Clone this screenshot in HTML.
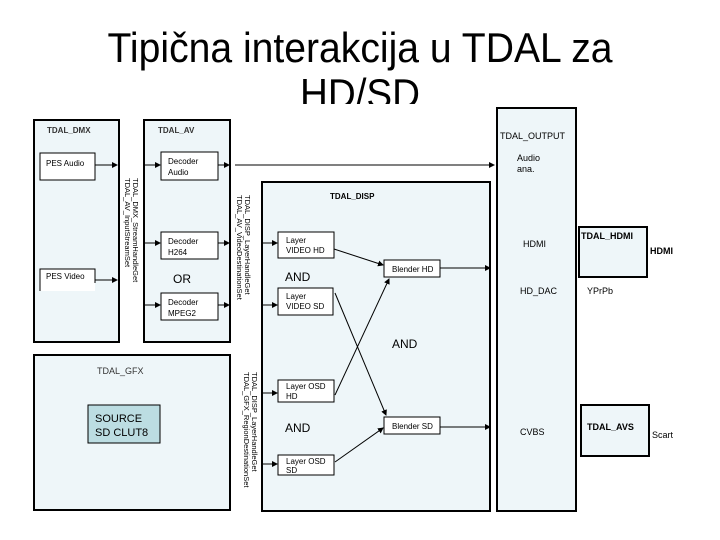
<!DOCTYPE html>
<html><head><meta charset="utf-8"><style>body{margin:0;background:#fff}svg{display:block}</style></head><body>
<svg width="720" height="540" xmlns="http://www.w3.org/2000/svg" font-family="Liberation Sans, sans-serif">
<defs><marker id="a" markerWidth="6" markerHeight="6" refX="5" refY="3" orient="auto"><path d="M0,0 L6,3 L0,6z" fill="#000"/></marker></defs>
<text x="360" y="62" font-size="42" text-anchor="middle" textLength="505" lengthAdjust="spacingAndGlyphs">Tipična interakcija u TDAL za</text>
<text x="360" y="108" font-size="42" text-anchor="middle" textLength="120" lengthAdjust="spacingAndGlyphs">HD/SD</text>
<rect x="0" y="104" width="490" height="6" fill="#fff"/>
<g fill="#eef6f9" stroke="#000" stroke-width="2">
<rect x="34" y="120" width="85" height="222"/>
<rect x="144" y="120" width="86" height="222"/>
<rect x="34" y="355" width="196" height="155"/>
<rect x="262" y="182" width="228" height="329"/>
<rect x="497" y="108" width="79" height="403"/>
<rect x="579" y="227" width="68" height="50"/>
<rect x="581" y="405" width="68" height="51"/>
</g>
<g fill="#fff" stroke="#000" stroke-width="1">
<rect x="40" y="153" width="55" height="27"/>
<rect x="40" y="269" width="55" height="22" stroke="none"/>
<path d="M40,291 V269 H95 V283" fill="none"/>
<rect x="161" y="152" width="57" height="28"/>
<rect x="161" y="232" width="57" height="27"/>
<rect x="161" y="293" width="57" height="27"/>
<rect x="278" y="232" width="56" height="26"/>
<rect x="278" y="288" width="55" height="27"/>
<rect x="278" y="380" width="56" height="22"/>
<rect x="278" y="455" width="56" height="20"/>
<rect x="384" y="260" width="56" height="17"/>
<rect x="384" y="417" width="56" height="17"/>
</g>
<rect x="88" y="405" width="72" height="38" fill="#bcdde2" stroke="#000"/>
<g stroke="#000" stroke-width="1" marker-end="url(#a)">
<line x1="95" y1="165" x2="117" y2="165"/>
<line x1="95" y1="280" x2="117" y2="280"/>
<line x1="145" y1="165" x2="160" y2="165"/>
<line x1="145" y1="243" x2="160" y2="243"/>
<line x1="145" y1="305" x2="160" y2="305"/>
<line x1="218" y1="165" x2="229" y2="165"/>
<line x1="218" y1="243" x2="229" y2="243"/>
<line x1="218" y1="305" x2="229" y2="305"/>
<line x1="235" y1="165" x2="494" y2="165"/>
<line x1="263" y1="243" x2="277" y2="243"/>
<line x1="263" y1="305" x2="277" y2="305"/>
<line x1="263" y1="393" x2="277" y2="393"/>
<line x1="263" y1="464" x2="277" y2="464"/>
<line x1="334" y1="249" x2="383" y2="265"/>
<line x1="335" y1="293" x2="386" y2="415"/>
<line x1="335" y1="395" x2="389" y2="279"/>
<line x1="335" y1="462" x2="383" y2="428"/>
<line x1="440" y1="268" x2="490" y2="268"/>
<line x1="440" y1="427" x2="490" y2="427"/>
</g>
<g font-size="8">
<text x="47" y="133" font-weight="bold" fill="#333">TDAL_DMX</text>
<text x="158" y="133" font-weight="bold" fill="#333">TDAL_AV</text>
<text x="46" y="166">PES Audio</text>
<text x="46" y="279">PES Video</text>
<text x="168" y="164">Decoder</text><text x="168" y="175">Audio</text>
<text x="168" y="244">Decoder</text><text x="168" y="255">H264</text>
<text x="168" y="305">Decoder</text><text x="168" y="316">MPEG2</text>
<text x="330" y="199" font-weight="bold">TDAL_DISP</text>
<text x="286" y="243">Layer</text><text x="286" y="253">VIDEO HD</text>
<text x="286" y="299">Layer</text><text x="286" y="309">VIDEO SD</text>
<text x="286" y="389">Layer OSD</text><text x="286" y="399">HD</text>
<text x="286" y="464">Layer OSD</text><text x="286" y="473">SD</text>
<text x="392" y="272">Blender HD</text>
<text x="392" y="429">Blender SD</text>
<text x="97" y="374" font-size="9" fill="#333">TDAL_GFX</text>
<text x="500" y="139" font-size="9">TDAL_OUTPUT</text>
<text x="517" y="161" font-size="9">Audio</text><text x="517" y="172" font-size="9">ana.</text>
<text x="523" y="247" font-size="9">HDMI</text>
<text x="520" y="294" font-size="9">HD_DAC</text>
<text x="520" y="435" font-size="9">CVBS</text>
<text x="581" y="239" font-size="9" font-weight="bold">TDAL_HDMI</text>
<text x="650" y="254" font-size="9" font-weight="bold">HDMI</text>
<text x="587" y="294" font-size="9">YPrPb</text>
<text x="587" y="430" font-size="9" font-weight="bold">TDAL_AVS</text>
<text x="652" y="438" font-size="9">Scart</text>
</g>
<text x="95" y="422" font-size="11">SOURCE</text>
<text x="95" y="436" font-size="11">SD CLUT8</text>
<g font-size="12"><text x="173" y="283">OR</text><text x="285" y="281">AND</text><text x="285" y="432">AND</text><text x="392" y="348">AND</text></g>
<g font-size="7.5">
<text transform="translate(133,178) rotate(90)">TDAL_DMX_StreamHandleGet</text>
<text transform="translate(125,178) rotate(90)">TDAL_AV_InputStreamSet</text>
<text transform="translate(245,195) rotate(90)">TDAL_DISP_LayerHandleGet</text>
<text transform="translate(237,195) rotate(90)">TDAL_AV_VideoDestinationSet</text>
<text transform="translate(252,372) rotate(90)">TDAL_DISP_LayerHandleGet</text>
<text transform="translate(244,372) rotate(90)">TDAL_GFX_RegionDestinationSet</text>
</g>
</svg>
</body></html>
